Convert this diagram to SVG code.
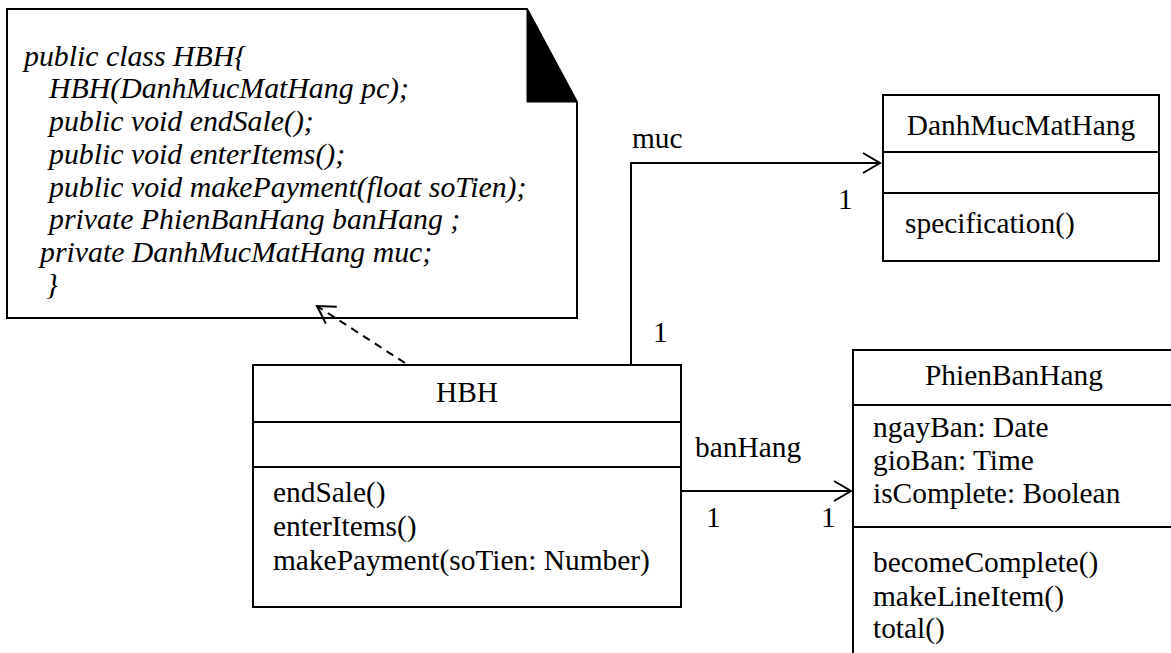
<svg xmlns="http://www.w3.org/2000/svg" width="1171" height="653" viewBox="0 0 1171 653">
  <style>
    .box { fill: #fff; stroke: #000; stroke-width: 2; }
    .ln { fill: none; stroke: #000; stroke-width: 2; }
    .t { font-family: "Liberation Serif", "Times New Roman", serif; font-size: 29.4px; fill: #000; }
    .c { text-anchor: middle; }
    .code { font-family: "Liberation Serif", "Times New Roman", serif; font-size: 29.8px; font-style: italic; fill: #000; }
  </style>
  <defs>
    <marker id="open" markerUnits="userSpaceOnUse" markerWidth="24" markerHeight="24" viewBox="-20 -12 24 24" refX="0" refY="0" orient="auto">
      <path d="M-17,-10 L0,0 L-17,10" fill="none" stroke="#000" stroke-width="2" stroke-dasharray="none"/>
    </marker>
  </defs>
  <rect width="1171" height="653" fill="#fff"/>

  <!-- note with source code -->
  <g id="note">
    <path class="box" d="M7,9 H527 L577,102 V318 H7 Z"/>
    <path d="M527,9 L577,102 H527 Z" fill="#000" stroke="#000" stroke-width="1"/>
    <text class="code" x="24" y="66">public class HBH{</text>
    <text class="code" x="49" y="98">HBH(DanhMucMatHang pc);</text>
    <text class="code" x="49" y="131">public void endSale();</text>
    <text class="code" x="49" y="164">public void enterItems();</text>
    <text class="code" x="49" y="197">public void makePayment(float soTien);</text>
    <text class="code" x="49" y="229">private PhienBanHang banHang ;</text>
    <text class="code" x="40" y="262">private DanhMucMatHang muc;</text>
    <text class="code" x="46" y="294">}</text>
  </g>

  <!-- class HBH -->
  <g id="HBH">
    <rect class="box" x="253" y="365" width="428" height="242"/>
    <line class="ln" x1="253" y1="422" x2="681" y2="422"/>
    <line class="ln" x1="253" y1="467" x2="681" y2="467"/>
    <text class="t c" x="467" y="402">HBH</text>
    <text class="t" x="273" y="502">endSale()</text>
    <text class="t" x="273" y="536">enterItems()</text>
    <text class="t" x="273" y="570">makePayment(soTien: Number)</text>
  </g>

  <!-- class DanhMucMatHang -->
  <g id="DanhMucMatHang">
    <rect class="box" x="883" y="95" width="276" height="166"/>
    <line class="ln" x1="883" y1="152" x2="1159" y2="152"/>
    <line class="ln" x1="883" y1="193" x2="1159" y2="193"/>
    <text class="t c" x="1021" y="135">DanhMucMatHang</text>
    <text class="t" x="905" y="233">specification()</text>
  </g>

  <!-- class PhienBanHang -->
  <g id="PhienBanHang">
    <rect class="box" x="853" y="350" width="322" height="320"/>
    <line class="ln" x1="853" y1="405" x2="1175" y2="405"/>
    <line class="ln" x1="853" y1="527" x2="1175" y2="527"/>
    <text class="t c" x="1014" y="385">PhienBanHang</text>
    <text class="t" x="873" y="437">ngayBan: Date</text>
    <text class="t" x="873" y="470">gioBan: Time</text>
    <text class="t" x="873" y="503">isComplete: Boolean</text>
    <text class="t" x="873" y="572">becomeComplete()</text>
    <text class="t" x="873" y="606">makeLineItem()</text>
    <text class="t" x="873" y="638">total()</text>
  </g>

  <!-- connectors -->
  <g id="connectors">
    <line class="ln" x1="405" y1="363" x2="317" y2="306" stroke-dasharray="8,6" marker-end="url(#open)"/>
    <polyline class="ln" points="631,365 631,163 880,163" marker-end="url(#open)"/>
    <line class="ln" x1="681" y1="491" x2="851" y2="491" marker-end="url(#open)"/>
    <text class="t" x="632" y="148">muc</text>
    <text class="t" x="838" y="209">1</text>
    <text class="t" x="653" y="342">1</text>
    <text class="t" x="695" y="457">banHang</text>
    <text class="t" x="706" y="527">1</text>
    <text class="t" x="821" y="527">1</text>
  </g>
</svg>
